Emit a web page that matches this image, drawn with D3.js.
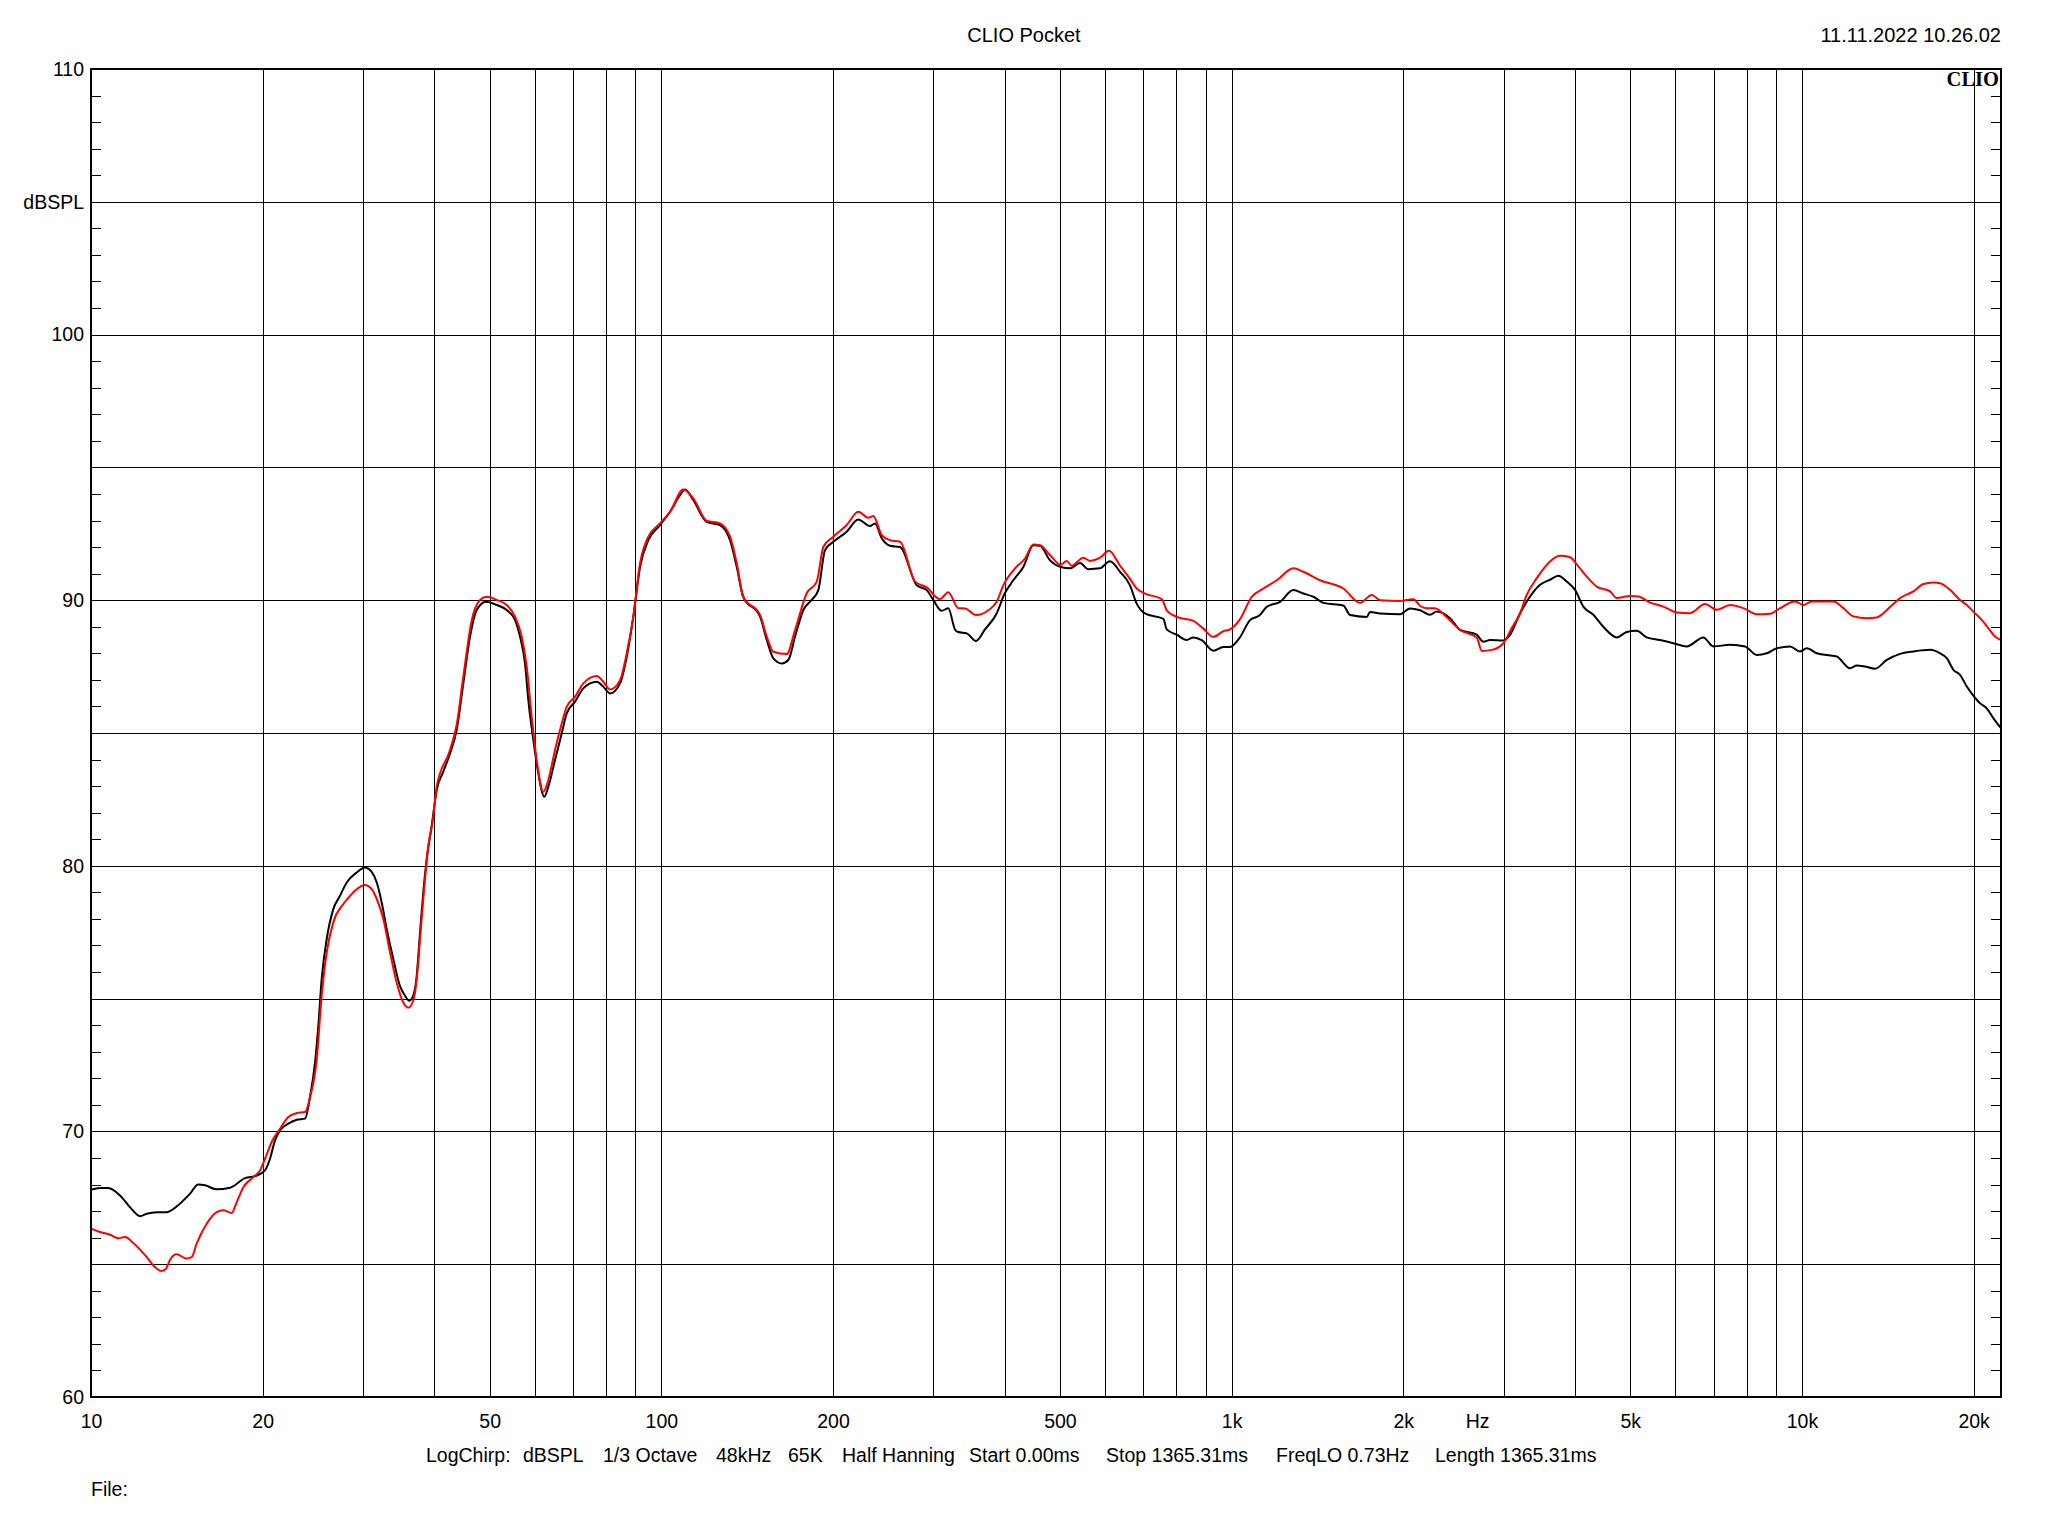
<!DOCTYPE html>
<html><head><meta charset="utf-8">
<script src="https://cdn.jsdelivr.net/npm/d3@7/dist/d3.min.js"></script>
<style>
body{margin:0;background:#fff}
text{font-family:"Liberation Sans",Arial,sans-serif;fill:#000}
</style>
</head><body>
<svg id="c" width="2048" height="1536"></svg>
<script>
// ---- data ----
const freqBlack = [10,10.37,10.72,11.24,11.70,12.19,12.52,13.04,13.57,14.32,14.91,15.42,15.85,16.61,17.53,18.62,19.52,20.19,20.60,21.02,21.45,22.18,22.95,23.73,24.21,24.71,25.04,25.38,25.90,26.60,27.33,28.08,29.23,30.23,31.06,31.70,32.34,33.00,33.89,34.81,35.53,36.15,36.73,37.25,37.75,38.25,38.78,39.57,40.38,41.48,42.61,43.77,44.96,46.20,47.46,49.27,51.45,53.57,55.40,56.52,57.68,58.46,59.65,60.86,62.36,63.38,65.11,66.90,68.26,70.59,72.99,77.04,79.13,81.31,84.65,86.97,89.32,91.78,94.90,99.47,103.6,107.9,110.0,113.8,120.1,126.7,132.0,135.6,139.2,149.0,153.1,157.2,162.6,167.0,171.6,177.4,183.5,188.5,193.7,200.3,211.4,221.5,232.2,237.0,243.5,251.8,262.2,280.5,292.0,300.0,310.2,318.6,327.3,331.7,343.2,356.3,369.5,387.3,400.0,414.2,431.3,449.1,461.4,480.4,501.6,520.8,542.2,560.7,587.8,612.0,637.3,663.5,681.7,704.9,759.1,769.5,801.3,834.2,856.8,886.3,928.7,967.2,993.6,1034,1077,1121,1152,1216,1283,1336,1391,1448,1570,1613,1726,1749,1821,1974,2055,2140,2228,2289,2416,2515,2690,2763,2839,2996,3078,3204,3337,3474,3617,3740,3869,4001,4137,4308,4485,4735,4929,5132,5343,5638,5950,6282,6717,6993,7482,7948,8332,8677,9034,9533,9925,10198,10617,11510,12145,12479,12903,13436,14086,14862,15684,16780,17469,17947,18433,18936,19456,19978,20527,21088,21654,22339];
const dbBlack = [67.8,67.87,67.87,67.59,67.15,66.81,66.9,66.96,66.96,67.28,67.65,68.0,67.97,67.82,67.88,68.24,68.34,68.53,68.97,69.66,70.04,70.29,70.44,70.48,71.3,72.6,73.98,75.73,77.24,78.37,78.87,79.37,79.75,79.94,79.77,79.37,78.62,77.62,76.49,75.48,75.11,74.92,75.11,75.86,77.49,79.0,80.25,81.5,82.85,83.55,84.23,85.11,86.87,88.63,89.63,89.94,89.82,89.63,89.25,88.63,87.62,86.24,84.74,83.48,82.6,82.98,83.98,84.99,85.74,86.18,86.68,86.93,86.74,86.49,86.87,87.87,89.38,91.26,92.26,92.83,93.33,93.96,94.17,93.77,92.95,92.83,92.26,91.26,90.13,89.38,88.5,87.81,87.62,87.75,88.63,89.63,90.01,90.38,91.89,92.2,92.58,93.04,92.79,92.89,92.33,92.05,92.0,90.56,90.38,90.0,89.6,89.7,88.9,88.8,88.75,88.46,88.9,89.5,90.25,90.75,91.25,92.07,92.05,91.5,91.25,91.2,91.4,91.17,91.2,91.47,91.07,90.56,89.87,89.5,89.3,88.9,88.7,88.5,88.6,88.5,88.1,88.24,88.24,88.6,89.25,89.44,89.75,89.94,90.38,90.25,90.13,89.9,89.8,89.44,89.37,89.56,89.5,89.47,89.69,89.62,89.45,89.57,89.32,88.88,88.7,88.44,88.5,88.48,88.7,89.5,90.14,90.58,90.77,90.92,90.7,90.39,89.76,89.45,89.0,88.6,88.8,88.85,88.6,88.5,88.38,88.26,88.6,88.26,88.32,88.26,87.94,88.0,88.19,88.26,88.07,88.19,88.0,87.88,87.44,87.54,87.5,87.42,87.75,87.98,88.07,88.13,88.0,87.82,87.38,87.19,86.75,86.41,86.12,85.93,85.56,85.18];

const freqRed = [10,10.37,10.80,11.17,11.47,11.86,12.52,12.95,13.30,13.54,13.76,14.13,14.72,15.02,15.32,15.95,16.61,17.06,17.65,18.01,18.50,19.26,19.78,20.19,20.74,21.45,22.18,22.95,23.73,24.21,24.88,25.38,25.90,26.60,27.70,28.46,29.23,30.23,31.06,31.70,32.56,33.44,34.36,35.29,36.01,36.73,37.25,37.75,38.25,39.04,39.74,40.38,42.61,43.77,44.96,46.52,48.10,49.42,51.45,53.57,55.40,56.92,58.08,59.26,60.46,62.10,63.38,65.11,66.90,68.26,70.59,72.99,77.04,79.13,81.31,84.65,86.97,89.32,91.78,94.90,99.47,103.6,109.3,113.8,120.1,126.7,132.0,135.6,139.2,149.0,153.1,157.2,165.9,171.6,179.9,187.3,192.4,200.3,211.4,221.5,230.7,235.4,243.5,251.8,262.2,278.6,292.0,308.1,318.6,331.7,340.9,356.3,374.5,387.3,397.8,417.1,434.3,449.1,461.4,480.4,501.6,513.8,524.3,549.5,564.6,587.8,609.6,637.3,663.5,681.7,704.9,754.2,769.5,801.3,856.8,892.1,928.7,967.2,993.6,1034,1085,1137,1200,1283,1336,1429,1570,1680,1761,1821,1974,2083,2140,2199,2273,2383,2515,2690,2746,2859,2996,3099,3204,3292,3428,3617,3765,3920,4055,4195,4367,4609,4735,4996,5167,5416,5715,6033,6366,6762,7091,7482,7894,8332,8793,9156,9727,10059,10406,11355,11824,12311,12993,13527,14272,14862,15684,16330,17002,17469,18188,18936,19456,19978,20665,21224,21804,22339];
const dbRed = [66.34,66.21,66.11,65.98,66.02,65.8,65.27,64.89,64.74,64.83,65.17,65.37,65.21,65.27,65.77,66.52,66.96,67.03,66.93,67.34,67.9,68.28,68.53,68.97,69.6,70.1,70.54,70.69,70.73,71.28,72.72,75.11,76.74,77.87,78.56,78.87,79.12,79.28,79.12,78.75,77.99,76.74,75.6,74.85,74.66,74.92,75.73,77.24,78.75,80.75,81.7,82.98,84.36,85.3,87.12,89.25,90.01,90.13,90.01,89.82,89.38,88.63,87.5,85.61,83.98,82.79,83.23,84.36,85.36,85.99,86.37,86.87,87.15,86.93,86.64,86.99,88.0,89.38,91.39,92.39,92.89,93.33,94.17,93.83,92.99,92.89,92.39,91.39,90.13,89.44,88.63,88.06,87.97,88.88,90.26,90.7,92.01,92.39,92.83,93.33,93.1,93.17,92.45,92.26,92.2,90.7,90.48,90.04,90.3,89.7,89.69,89.44,89.62,89.94,90.56,91.2,91.57,92.1,92.07,91.7,91.34,91.48,91.3,91.6,91.48,91.6,91.86,91.3,90.8,90.44,90.25,90.04,89.62,89.37,89.22,88.93,88.62,88.83,88.9,89.28,90.13,90.44,90.75,91.2,91.07,90.75,90.44,89.9,90.2,90.0,89.97,90.04,89.79,89.7,89.7,89.36,88.88,88.6,88.09,88.13,88.38,88.95,89.5,90.2,90.83,91.46,91.67,91.62,91.27,90.89,90.51,90.33,90.08,90.16,90.14,89.91,89.76,89.54,89.51,89.86,89.64,89.82,89.7,89.47,89.49,89.7,89.95,89.82,89.95,89.95,89.7,89.39,89.32,89.35,89.74,90.08,90.33,90.61,90.67,90.64,90.39,90.01,89.82,89.57,89.26,88.95,88.63,88.5];

const xGridValues = [20,30,40,50,60,70,80,90,100,200,300,400,500,600,700,800,900,1000,2000,3000,4000,5000,6000,7000,8000,9000,10000,20000];
const xLabelValues = [10,20,50,100,200,500,1000,2000,5000,10000,20000];
const xLabelTexts = ["10","20","50","100","200","500","1k","2k","5k","10k","20k"];
const yGridValues = [65,70,75,80,85,90,95,100,105];
const yLabelValues = [110,105,100,90,80,70,60];
const yLabelTexts = ["110","dBSPL","100","90","80","70","60"];
const footerTexts = ["LogChirp:","dBSPL","1/3 Octave","48kHz","65K","Half Hanning","Start 0.00ms","Stop 1365.31ms","FreqLO 0.73Hz","Length 1365.31ms"];
const titleText = "CLIO Pocket";
const dateText = "11.11.2022 10.26.02";

// ---- layout ----
const L = 91, R = 2001, T = 69, B = 1397;
const FS = 19.5;
const HFS = 20;
const svg = d3.select("#c");
const x = d3.scaleLog().domain([10, 22340]).range([L, R]);
const y = d3.scaleLinear().domain([60, 110]).range([B, T]);

// title / header
svg.append("text").attr("x", 1024).attr("y", 42).attr("text-anchor", "middle")
  .style("font-size", HFS + "px").text(titleText);
svg.append("text").attr("x", 2001).attr("y", 42).attr("text-anchor", "end")
  .style("font-size", HFS + "px").text(dateText);

// CLIO logo
svg.append("text").attr("x", 1999).attr("y", 86).attr("text-anchor", "end")
  .style("font-family", "'Liberation Serif','Times New Roman',serif")
  .style("font-weight", "bold").style("font-size", "20.5px").text("CLIO");

const grid = svg.append("g").attr("shape-rendering", "crispEdges")
  .attr("stroke", "#000").attr("stroke-width", 1);

// vertical grid
grid.selectAll("line.vx").data(xGridValues).join("line")
  .attr("x1", d => Math.round(x(d)) + 0.5).attr("x2", d => Math.round(x(d)) + 0.5)
  .attr("y1", T).attr("y2", B);
// horizontal grid
grid.selectAll("line.hy").data(yGridValues).join("line")
  .attr("y1", d => Math.round(y(d)) + 0.5).attr("y2", d => Math.round(y(d)) + 0.5)
  .attr("x1", L).attr("x2", R);
// minor ticks every 1 dB, left and right, pointing inward
const minor = d3.range(61, 110).filter(v => v % 5 !== 0);
grid.selectAll("line.ml").data(minor).join("line")
  .attr("y1", d => Math.round(y(d)) + 0.5).attr("y2", d => Math.round(y(d)) + 0.5)
  .attr("x1", L).attr("x2", L + 10);
svg.append("g").attr("shape-rendering", "crispEdges").attr("stroke", "#000")
  .selectAll("line").data(minor).join("line")
  .attr("y1", d => Math.round(y(d)) + 0.5).attr("y2", d => Math.round(y(d)) + 0.5)
  .attr("x1", R - 10).attr("x2", R);

// curves
const line = d3.line().curve(d3.curveMonotoneX).x(d => x(d[0])).y(d => y(d[1]));
const black = freqBlack.map((f, i) => [f, dbBlack[i]]);
const red = freqRed.map((f, i) => [f, dbRed[i]]);
svg.append("path").datum(black).attr("d", line).attr("fill", "none")
  .attr("stroke", "#000").attr("stroke-width", 2).attr("stroke-linejoin", "round");
svg.append("path").datum(red).attr("d", line).attr("fill", "none")
  .attr("stroke", "#ff0000").attr("stroke-width", 2).attr("stroke-linejoin", "round");

// frame
svg.append("rect").attr("x", L).attr("y", T).attr("width", R - L).attr("height", B - T)
  .attr("fill", "none").attr("stroke", "#000").attr("stroke-width", 2.5)
  .attr("shape-rendering", "crispEdges");

// x labels via axis
const xa = svg.append("g").attr("transform", `translate(0,${B})`)
  .call(d3.axisBottom(x).tickValues(xLabelValues).tickSize(0).tickPadding(0)
    .tickFormat((d, i) => xLabelTexts[i]));
xa.select(".domain").remove();
xa.selectAll("text").attr("y", 31).attr("dy", null).style("font-size", FS + "px")
  .style("font-family", "'Liberation Sans',Arial,sans-serif");
svg.append("text").attr("x", x(2700)).attr("y", B + 31).attr("text-anchor", "middle")
  .style("font-size", FS + "px").text("Hz");

// y labels via axis
const ya = svg.append("g").attr("transform", `translate(${L},0)`)
  .call(d3.axisLeft(y).tickValues(yLabelValues).tickSize(0).tickPadding(7)
    .tickFormat((d, i) => yLabelTexts[i]));
ya.select(".domain").remove();
ya.selectAll("text").style("font-size", FS + "px")
  .style("font-family", "'Liberation Sans',Arial,sans-serif");

// footer
const footerX = [426, 523, 603, 716, 788, 842, 969, 1106, 1276, 1435];
svg.append("g").selectAll("text").data(footerTexts).join("text")
  .attr("x", (d, i) => footerX[i]).attr("y", 1462).style("font-size", FS + "px")
  .text(d => d);
svg.append("text").attr("x", 91).attr("y", 1496).style("font-size", FS + "px").text("File:");
</script>
</body></html>
